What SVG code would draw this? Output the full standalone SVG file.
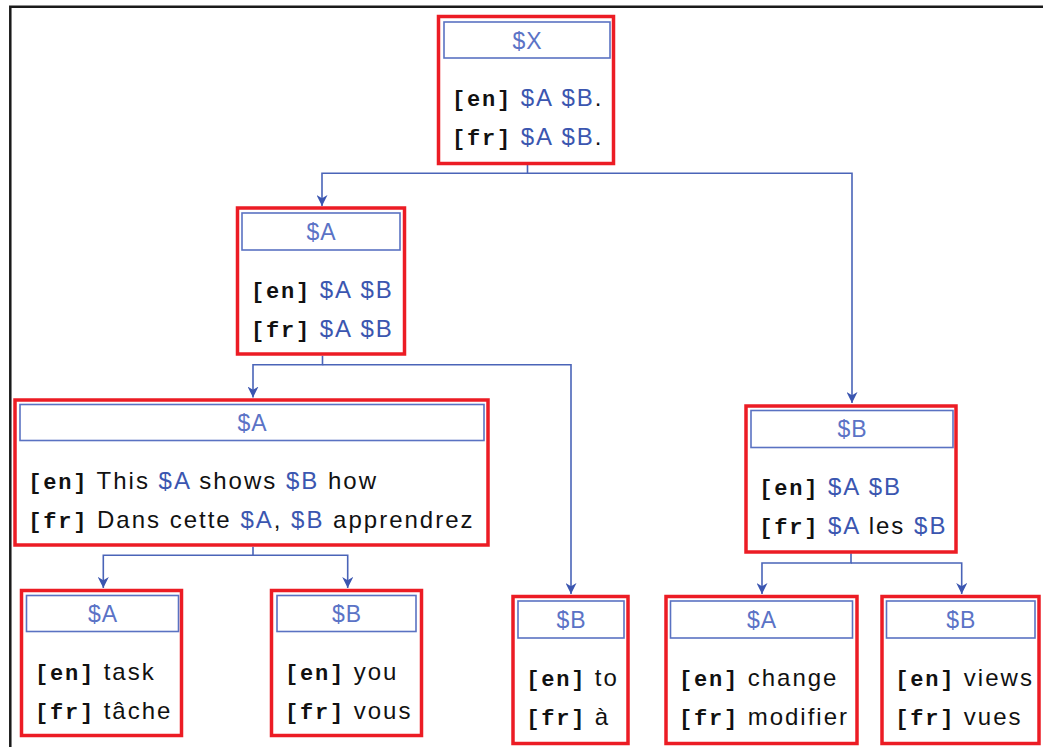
<svg xmlns="http://www.w3.org/2000/svg" width="1043" height="747" viewBox="0 0 1043 747">
<defs>
<style>
.box{fill:#fff;stroke:#ec1c24;stroke-width:3.5}
.hdr{fill:#fff;stroke:#5a72c2;stroke-width:1.6}
.ht{font-family:"Liberation Sans",Arial,sans-serif;font-size:23px;fill:#5b73c6;text-anchor:middle;letter-spacing:1px}
.t{font-family:"Liberation Sans",Arial,sans-serif;font-size:24px;fill:#111;letter-spacing:2px}
.m{font-family:"Liberation Mono","Courier New",monospace;font-weight:bold;font-size:22px;letter-spacing:1.8px}
.v{fill:#3b56b0}
.c{fill:none;stroke:#4a64b8;stroke-width:1.6}
.frame{fill:none;stroke:#1a1a1a;stroke-width:2.5}
</style>
<marker id="ah" viewBox="0 0 10 10" refX="10" refY="5" markerWidth="11" markerHeight="11" markerUnits="userSpaceOnUse" orient="auto">
<path d="M0,0 L10,5 L0,10 L3,5 z" fill="#3b56b0"/>
</marker>
</defs>
<rect width="1043" height="747" fill="#fff"/>
<path class="frame" d="M10.3,747 V6.8 H1043"/>

<g id="connectors">
<path class="c" marker-end="url(#ah)" d="M527.5,165 V173.3 H322 V206"/>
<path class="c" marker-end="url(#ah)" d="M527.5,173.3 H852 V403"/>
<path class="c" marker-end="url(#ah)" d="M322.5,355.7 V364.7 H253 V397.5"/>
<path class="c" marker-end="url(#ah)" d="M322.5,364.7 H571 V594"/>
<path class="c" marker-end="url(#ah)" d="M253,546.7 V555.3 H103.3 V588"/>
<path class="c" marker-end="url(#ah)" d="M253,555.3 H347.7 V588"/>
<path class="c" marker-end="url(#ah)" d="M851,553.3 V563 H762 V594"/>
<path class="c" marker-end="url(#ah)" d="M851,563 H961.7 V594"/>
</g>

<g id="n-x">
<rect class="box" x="438.5" y="16.5" width="175" height="147"/>
<rect class="hdr" x="444" y="22" width="166" height="36"/>
<text class="ht" x="527.5" y="48.5">$X</text>
<text class="t" x="452" y="106"><tspan class="m">[en]</tspan> <tspan class="v">$A</tspan> <tspan class="v">$B</tspan>.</text>
<text class="t" x="452" y="145"><tspan class="m">[fr]</tspan> <tspan class="v">$A</tspan> <tspan class="v">$B</tspan>.</text>
</g>

<g id="n-a1">
<rect class="box" x="237.5" y="208" width="167" height="146"/>
<rect class="hdr" x="242" y="213" width="158" height="37"/>
<text class="ht" x="321.5" y="240">$A</text>
<text class="t" x="251" y="297.7"><tspan class="m">[en]</tspan> <tspan class="v">$A</tspan> <tspan class="v">$B</tspan></text>
<text class="t" x="251" y="336.7"><tspan class="m">[fr]</tspan> <tspan class="v">$A</tspan> <tspan class="v">$B</tspan></text>
</g>

<g id="n-a2">
<rect class="box" x="15" y="400" width="473" height="145"/>
<rect class="hdr" x="20" y="404.5" width="464" height="36"/>
<text class="ht" x="252.5" y="431">$A</text>
<text class="t" x="28.3" y="489.3"><tspan class="m">[en]</tspan> This <tspan class="v">$A</tspan> shows <tspan class="v">$B</tspan> how</text>
<text class="t" x="28.3" y="528.3"><tspan class="m">[fr]</tspan> Dans cette <tspan class="v">$A</tspan>, <tspan class="v">$B</tspan> apprendrez</text>
</g>

<g id="n-b1">
<rect class="box" x="746" y="406" width="210" height="146"/>
<rect class="hdr" x="751" y="410.5" width="202" height="37"/>
<text class="ht" x="852.5" y="437">$B</text>
<text class="t" x="759.3" y="495.3"><tspan class="m">[en]</tspan> <tspan class="v">$A</tspan> <tspan class="v">$B</tspan></text>
<text class="t" x="759.3" y="534.3"><tspan class="m">[fr]</tspan> <tspan class="v">$A</tspan> les <tspan class="v">$B</tspan></text>
</g>

<g id="n-a3">
<rect class="box" x="21.5" y="590.5" width="160" height="145"/>
<rect class="hdr" x="26.5" y="595.5" width="152" height="36"/>
<text class="ht" x="103" y="622">$A</text>
<text class="t" x="35" y="680"><tspan class="m">[en]</tspan> task</text>
<text class="t" x="35" y="719"><tspan class="m">[fr]</tspan> tâche</text>
</g>

<g id="n-b2">
<rect class="box" x="271.5" y="590.5" width="150" height="145"/>
<rect class="hdr" x="277" y="595.5" width="139" height="36"/>
<text class="ht" x="347" y="622">$B</text>
<text class="t" x="285" y="680"><tspan class="m">[en]</tspan> you</text>
<text class="t" x="285" y="719"><tspan class="m">[fr]</tspan> vous</text>
</g>

<g id="n-b3">
<rect class="box" x="513" y="596.5" width="115" height="147"/>
<rect class="hdr" x="518" y="601" width="106" height="37"/>
<text class="ht" x="571.5" y="628">$B</text>
<text class="t" x="526.2" y="686"><tspan class="m">[en]</tspan> to</text>
<text class="t" x="526.2" y="725"><tspan class="m">[fr]</tspan> à</text>
</g>

<g id="n-a4">
<rect class="box" x="666" y="596.5" width="191" height="147"/>
<rect class="hdr" x="670.5" y="601" width="182" height="37"/>
<text class="ht" x="762" y="628">$A</text>
<text class="t" x="679" y="686"><tspan class="m">[en]</tspan> change</text>
<text class="t" x="679" y="725"><tspan class="m">[fr]</tspan> modifier</text>
</g>

<g id="n-b4">
<rect class="box" x="882" y="596.5" width="157" height="147"/>
<rect class="hdr" x="886.5" y="601" width="148.5" height="37"/>
<text class="ht" x="961.3" y="628">$B</text>
<text class="t" x="895.2" y="686"><tspan class="m">[en]</tspan> views</text>
<text class="t" x="895.2" y="725"><tspan class="m">[fr]</tspan> vues</text>
</g>
</svg>
